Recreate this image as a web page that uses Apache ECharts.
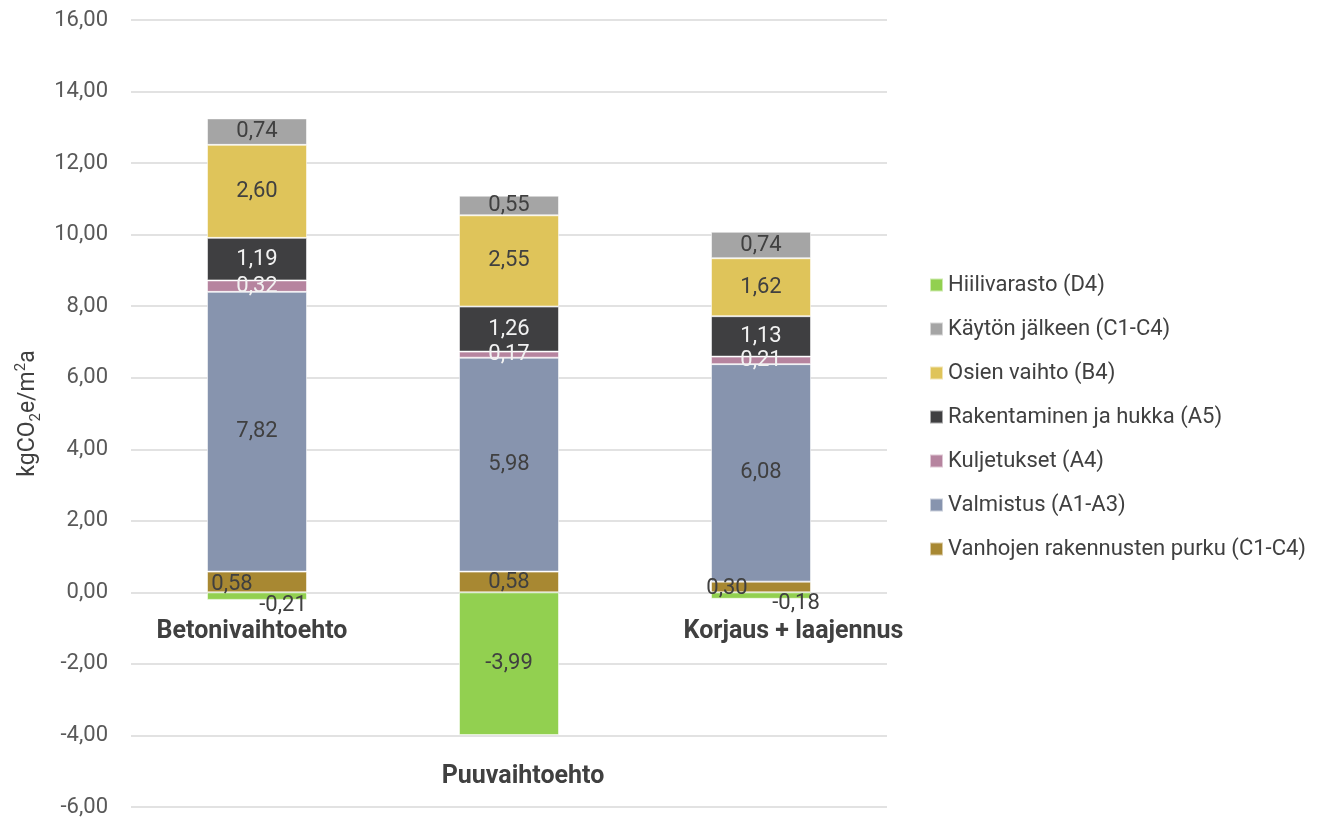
<!DOCTYPE html>
<html>
<head>
<meta charset="utf-8">
<script src="https://cdn.jsdelivr.net/npm/echarts@6/dist/echarts.min.js"></script>
<style>
  html, body { margin: 0; padding: 0; background: #fff; }
  #chart { width: 1337px; height: 819px; }
</style>
</head>
<body>
<div id="chart"></div>
<script>
// Vaihtoehdot
const categories = ['Betonivaihtoehto', 'Puuvaihtoehto', 'Korjaus + laajennus'];

// Päästöt kgCO2e/m2a, moduuleittain
const purku        = [0.58, 0.58, 0.30];   // Vanhojen rakennusten purku (C1-C4)
const valmistus    = [7.82, 5.98, 6.08];   // Valmistus (A1-A3)
const kuljetukset  = [0.32, 0.17, 0.21];   // Kuljetukset (A4)
const rakentaminen = [1.19, 1.26, 1.13];   // Rakentaminen ja hukka (A5)
const osienVaihto  = [2.60, 2.55, 1.62];   // Osien vaihto (B4)
const kaytonJalkeen = [0.74, 0.55, 0.74];  // Käytön jälkeen (C1-C4)
const hiilivarasto = [-0.21, -3.99, -0.18]; // Hiilivarasto (D4)

const yTicks = { min: -6, max: 16, interval: 2 };

const fmt = v => v.toFixed(2).replace('.', ',');
const FONT = 'Roboto, "Noto Sans", sans-serif';
const DARK = '#404040';
const LIGHT = '#f2f2f2';

// Label nudges for the small segments around the zero line
const labelNudge = {
  purku: [[-25, 3], [0, 1], [-34, 2]],
  hiili: [[26, 9], [0, 0], [35, 8]]
};

function makeSeries(name, values, color, labelColor, nudge) {
  return {
    name: name,
    type: 'bar',
    stack: 'total',
    barWidth: 100,
    itemStyle: { color: color, borderColor: 'rgba(255,255,255,0.55)', borderWidth: 1 },
    label: {
      show: true,
      position: 'inside',
      color: labelColor,
      fontFamily: FONT,
      fontSize: 22,
      formatter: p => fmt(p.value)
    },
    data: values.map((v, i) => {
      const item = { value: v };
      if (nudge) item.label = { offset: nudge[i] };
      return item;
    })
  };
}

const series = [
  makeSeries('Vanhojen rakennusten purku (C1-C4)', purku, '#a88832', DARK, labelNudge.purku),
  makeSeries('Valmistus (A1-A3)', valmistus, '#8794ae', DARK),
  makeSeries('Kuljetukset (A4)', kuljetukset, '#b6849f', LIGHT),
  makeSeries('Rakentaminen ja hukka (A5)', rakentaminen, '#3f3f41', LIGHT),
  makeSeries('Osien vaihto (B4)', osienVaihto, '#dfc45a', DARK),
  makeSeries('Käytön jälkeen (C1-C4)', kaytonJalkeen, '#a5a5a5', DARK),
  makeSeries('Hiilivarasto (D4)', hiilivarasto, '#92d050', DARK, labelNudge.hiili)
];

const legendOrder = series.map(s => s.name).reverse();

const catFont = { fontFamily: FONT, fontSize: 25, fontWeight: 'bold', color: DARK };

const chart = echarts.init(document.getElementById('chart'), null, { renderer: 'canvas' });
chart.setOption({
  animation: false,
  backgroundColor: '#ffffff',
  grid: { left: 131, right: 450, top: 20, bottom: 12, containLabel: false, outerBoundsMode: 'none' },
  legend: {
    data: legendOrder,
    orient: 'vertical',
    left: 924,
    top: 268,
    icon: 'rect',
    itemWidth: 13,
    itemHeight: 13,
    itemGap: 20,
    selectedMode: false,
    textStyle: { fontFamily: FONT, fontSize: 22, color: DARK, lineHeight: 24 }
  },
  xAxis: {
    type: 'category',
    data: categories,
    axisTick: { show: false },
    axisLine: { show: false, onZero: false },
    axisLabel: {
      // category names sit just under the zero line
      margin: -188,
      formatter: (v, i) => '{c' + i + '|' + v + '}',
      rich: {
        c0: Object.assign({ padding: [0, 10, 0, 0] }, catFont),
        c1: Object.assign({ padding: [145, 0, 0, 28] }, catFont),
        c2: Object.assign({ padding: [0, 0, 0, 65] }, catFont)
      }
    }
  },
  yAxis: {
    type: 'value',
    min: yTicks.min,
    max: yTicks.max,
    interval: yTicks.interval,
    name: '{n|kgCO}{s|2}{n|e/m}{p|2}{n|a}',
    nameLocation: 'middle',
    nameRotate: 90,
    nameGap: 86,
    nameTextStyle: {
      rich: {
        n: { fontFamily: FONT, fontSize: 23, color: DARK, lineHeight: 30, verticalAlign: 'middle' },
        s: { fontFamily: FONT, fontSize: 15, color: DARK, lineHeight: 15, verticalAlign: 'bottom' },
        p: { fontFamily: FONT, fontSize: 15, color: DARK, lineHeight: 15, verticalAlign: 'top' }
      }
    },
    axisLine: { show: false },
    axisTick: { show: false },
    axisLabel: {
      margin: 23,
      fontFamily: FONT,
      fontSize: 22,
      color: '#595959',
      formatter: v => fmt(v)
    },
    splitLine: { lineStyle: { color: '#d9d9d9', width: 1.5 } }
  },
  series: series
});
</script>
</body>
</html>
